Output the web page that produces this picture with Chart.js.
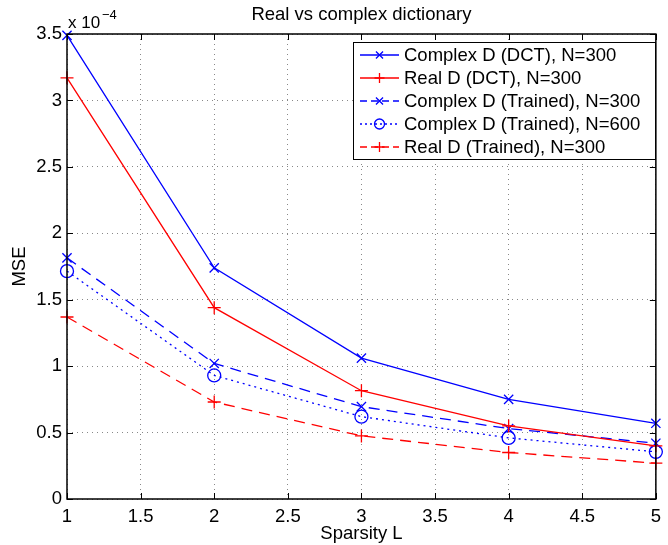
<!DOCTYPE html>
<html>
<head>
<meta charset="utf-8">
<script src="https://cdn.jsdelivr.net/npm/chart.js@4.4.1/dist/chart.umd.min.js"></script>
<style>
  html, body { margin: 0; padding: 0; background: #fff; }
  #wrap { width: 668px; height: 545px; }
</style>
</head>
<body>
<div id="wrap"><canvas id="mseChart" width="668" height="545"></canvas></div>
<script>
// sparsity L
const sparsity = [1, 2, 3, 4, 5];
// MSE values, in units of 1e-4
const complexDct300 = [3.49, 1.74, 1.06, 0.75, 0.57];
const realDct300 = [3.17, 1.44, 0.815, 0.55, 0.40];
const complexTrained300 = [1.815, 1.02, 0.695, 0.53, 0.42];
const complexTrained600 = [1.715, 0.93, 0.62, 0.46, 0.355];
const realTrained300 = [1.37, 0.73, 0.475, 0.35, 0.27];
const seriesNames = [
    'Complex D (DCT), N=300',
    'Real D (DCT), N=300',
    'Complex D (Trained), N=300',
    'Complex D (Trained), N=600',
    'Real D (Trained), N=300'
];

const FONT = '"Liberation Sans", Arial, sans-serif';
const FS = 18.5;
const BLUE = '#0000ff';
const RED = '#ff0000';

function pts(values) {
    return sparsity.map((x, i) => ({x: x, y: values[i]}));
}

function makeSet(label, values, color, dash, marker) {
    return {
        label: label,
        data: pts(values),
        borderColor: color,
        backgroundColor: 'rgba(0,0,0,0)',
        borderWidth: 1.3,
        borderDash: dash,
        pointStyle: marker,
        pointRadius: 6.5,
        pointBorderColor: color,
        pointBackgroundColor: 'rgba(0,0,0,0)',
        pointBorderWidth: 1.3,
        tension: 0,
        fill: false,
        clip: false
    };
}

const datasets = [
    makeSet(seriesNames[0], complexDct300, BLUE, [], 'crossRot'),
    makeSet(seriesNames[1], realDct300, RED, [], 'cross'),
    makeSet(seriesNames[2], complexTrained300, BLUE, [11, 7], 'crossRot'),
    makeSet(seriesNames[3], complexTrained600, BLUE, [2, 4], 'circle'),
    makeSet(seriesNames[4], realTrained300, RED, [11, 7], 'cross')
];

// frame, inner ticks, titles, exponent and legend
const decorations = {
    id: 'decorations',
    afterDraw(chart) {
        const ctx = chart.ctx;
        const a = chart.chartArea;
        const xs = chart.scales.x, ys = chart.scales.y;
        ctx.save();
        // inner tick marks
        ctx.strokeStyle = '#000';
        ctx.lineWidth = 1;
        ctx.setLineDash([]);
        ctx.beginPath();
        xs.ticks.forEach(t => {
            const px = Math.round(xs.getPixelForValue(t.value)) + 0.5;
            ctx.moveTo(px, a.bottom); ctx.lineTo(px, a.bottom - 6);
            ctx.moveTo(px, a.top); ctx.lineTo(px, a.top + 6);
        });
        ys.ticks.forEach(t => {
            const py = Math.round(ys.getPixelForValue(t.value)) + 0.5;
            ctx.moveTo(a.left, py); ctx.lineTo(a.left + 6, py);
            ctx.moveTo(a.right, py); ctx.lineTo(a.right - 6, py);
        });
        ctx.stroke();
        // box
        ctx.lineWidth = 1.5;
        ctx.strokeRect(a.left, a.top, a.right - a.left, a.bottom - a.top);

        ctx.fillStyle = '#000';
        ctx.textAlign = 'center';
        ctx.textBaseline = 'middle';
        ctx.font = FS + 'px ' + FONT;
        // title
        ctx.fillText('Real vs complex dictionary', (a.left + a.right) / 2, 15);
        // axis titles
        ctx.fillText('Sparsity L', (a.left + a.right) / 2, 534);
        ctx.save();
        ctx.translate(20, (a.top + a.bottom) / 2);
        ctx.rotate(-Math.PI / 2);
        ctx.fillText('MSE', 0, 0);
        ctx.restore();

        // exponent
        ctx.textAlign = 'left';
        ctx.textBaseline = 'alphabetic';
        ctx.font = '17px ' + FONT;
        ctx.fillText('x 10', 68, 28);
        ctx.font = '13px ' + FONT;
        ctx.fillText('\u22124', 102, 19);

        // legend
        const lx = 353, ly = 42, lw = 302, lh = 117;
        ctx.fillStyle = '#fff';
        ctx.fillRect(lx, ly, lw, lh);
        ctx.strokeStyle = '#000';
        ctx.lineWidth = 1;
        ctx.strokeRect(lx + 0.5, ly + 0.5, lw, lh);
        const rowH = 23;
        chart.data.datasets.forEach((ds, i) => {
            const cy = ly + 13 + i * rowH;
            const x0 = lx + 7, x1 = lx + 46;
            ctx.strokeStyle = ds.borderColor;
            ctx.lineWidth = ds.borderWidth;
            ctx.setLineDash(ds.borderDash.length ? (ds.pointStyle === 'circle' ? [2, 3] : [7, 4]) : []);
            ctx.beginPath();
            ctx.moveTo(x0, cy); ctx.lineTo(x1, cy);
            ctx.stroke();
            ctx.setLineDash([]);
            ctx.fillStyle = 'rgba(0,0,0,0)';
            Chart.helpers.drawPoint(ctx, {
                pointStyle: ds.pointStyle,
                radius: 5,
                borderWidth: ds.pointBorderWidth
            }, (x0 + x1) / 2, cy);
            ctx.fillStyle = '#000';
            ctx.font = FS + 'px ' + FONT;
            ctx.textAlign = 'left';
            ctx.textBaseline = 'middle';
            ctx.fillText(ds.label, lx + 51, cy + 1);
        });
        ctx.restore();
    }
};

new Chart(document.getElementById('mseChart'), {
    type: 'line',
    data: {datasets: datasets},
    plugins: [decorations],
    options: {
        responsive: false,
        animation: false,
        devicePixelRatio: 1,
        layout: {padding: {left: 0, right: 11, top: 34, bottom: 0}},
        plugins: {legend: {display: false}, title: {display: false}, tooltip: {enabled: false}},
        scales: {
            x: {
                type: 'linear',
                min: 1, max: 5,
                afterFit: s => { s.height = 46; },
                ticks: {
                    stepSize: 0.5,
                    color: '#000',
                    font: {family: FONT, size: FS},
                    padding: 7,
                    maxRotation: 0,
                    callback: v => String(v)
                },
                grid: {color: '#888', lineWidth: 1, tickLength: 0, drawTicks: false},
                border: {display: false, dash: [1, 4]}
            },
            y: {
                type: 'linear',
                min: 0, max: 3.5,
                afterFit: s => { s.width = 67; },
                ticks: {
                    stepSize: 0.5,
                    color: '#000',
                    font: {family: FONT, size: FS},
                    padding: 5,
                    callback: v => String(v)
                },
                grid: {color: '#888', lineWidth: 1, tickLength: 0, drawTicks: false},
                border: {display: false, dash: [1, 4]}
            }
        }
    }
});
</script>
</body>
</html>
